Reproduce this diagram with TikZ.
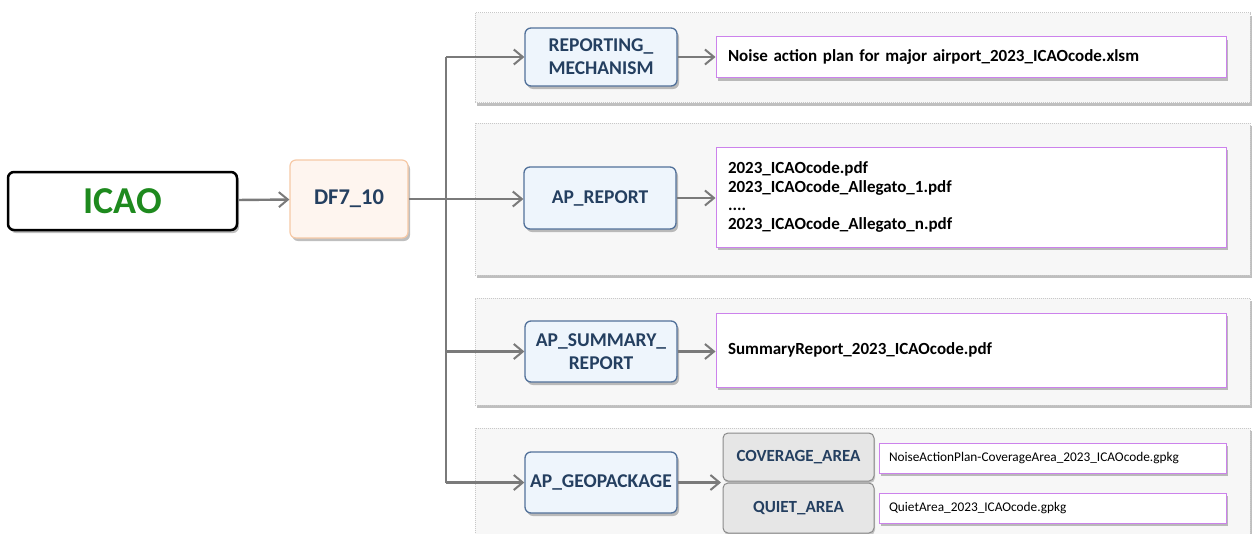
\documentclass[tikz,border=0pt]{standalone}
\usepackage{fontspec}
\setmainfont{Carlito}
\usetikzlibrary{arrows.meta,shadows}

\definecolor{navy}{HTML}{243F60}
\definecolor{bluefill}{HTML}{EEF5FC}
\definecolor{blueline}{HTML}{52719A}
\definecolor{peachfill}{HTML}{FEF5EF}
\definecolor{peachline}{HTML}{F6C9A6}
\definecolor{icaogreen}{HTML}{1E8A1E}
\definecolor{panelfill}{HTML}{F7F7F7}
\definecolor{panelline}{HTML}{C8C8C8}
\definecolor{fileline}{HTML}{CC82EC}
\definecolor{grayfill}{HTML}{E6E6E6}
\definecolor{grayline}{HTML}{8A8A8A}
\definecolor{arrowgray}{HTML}{7A7A7A}

\begin{document}
\begin{tikzpicture}[x=1pt,y=-1pt,
  shadowed/.style={drop shadow={shadow xshift=2pt,shadow yshift=-3pt,opacity=0.25,fill=black}},
  panel/.style={draw=panelline,dash pattern=on 1pt off 1pt,fill=panelfill,shadowed,
    minimum width=775pt,inner sep=0pt},
  srcbox/.style={draw=black,line width=2.5pt,rounded corners=6pt,fill=white,shadowed,
    minimum width=229pt,minimum height=58pt,font=\fontsize{38}{42}\selectfont\bfseries,text=icaogreen},
  dfbox/.style={draw=peachline,line width=1.2pt,rounded corners=6pt,fill=peachfill,shadowed,
    minimum width=118pt,minimum height=78pt,font=\fontsize{22.5}{26}\selectfont\bfseries,text=navy},
  catbox/.style={draw=blueline,line width=1.3pt,rounded corners=6pt,fill=bluefill,shadowed,
    minimum width=152pt,minimum height=60pt,align=center,
    font=\fontsize{19.5}{23}\selectfont\bfseries,text=navy},
  areabox/.style={draw=grayline,line width=1pt,rounded corners=5pt,fill=grayfill,
    drop shadow={shadow xshift=1pt,shadow yshift=-2pt,opacity=0.2,fill=black},
    minimum width=151pt,font=\fontsize{17}{20}\selectfont\bfseries,text=navy},
  filebox/.style={draw=fileline,line width=1pt,fill=white,shadowed,
    text width=486pt,align=left,inner xsep=12pt,
    font=\fontsize{17}{18.5}\selectfont\bfseries},
  smallfile/.style={draw=fileline,line width=1pt,fill=white,shadowed,
    text width=327pt,align=left,inner xsep=10pt,minimum height=30pt,
    font=\fontsize{13.3}{15}\selectfont},
  link/.style={draw=arrowgray,line width=2.4pt,-{Straight Barb[length=9pt,width=15pt,line width=2pt]}},
  trunk/.style={draw=arrowgray,line width=2.4pt}
]
  \useasboundingbox (0,0) rectangle (1253,533);

  %background panels, one for each output type
  \node[panel,minimum height=90pt]  (p1) at (862.5,57.5) {};
  \node[panel,minimum height=152pt] (p2) at (862.5,199) {};
  \node[panel,minimum height=107pt] (p3) at (862.5,351.5) {};
  \node[panel,minimum height=112pt] (p4) at (862.5,484) {};

  %source and data flow
  \node[srcbox] (icao) at (122.5,201) {ICAO};
  \node[dfbox]  (df)   at (349,199) {DF7\_10};

  %categories
  \node[catbox,minimum height=58pt] (m1) at (601,57)    {REPORTING\_\\MECHANISM};
  \node[catbox,minimum height=62pt] (m2) at (600,198)   {AP\_REPORT};
  \node[catbox,minimum height=61pt] (m3) at (601,351.5) {AP\_SUMMARY\_\\REPORT};
  \node[catbox,minimum height=61pt] (m4) at (601,482.5) {AP\_GEOPACKAGE};

  %files
  \node[filebox,minimum height=41pt]  (f1) at (971,57)  {Noise action plan for major airport\_2023\_ICAOcode.xlsm};
  \node[filebox,minimum height=100pt] (f2) at (971,197) {2023\_ICAOcode.pdf\\2023\_ICAOcode\_Allegato\_1.pdf\\....\\2023\_ICAOcode\_Allegato\_n.pdf};
  \node[filebox,minimum height=74pt]  (f3) at (971,350) {SummaryReport\_2023\_ICAOcode.pdf};

  %geopackage layers
  \node[areabox,minimum height=48pt] (g1) at (798.5,457) {COVERAGE\_AREA};
  \node[areabox,minimum height=50pt] (g2) at (798.5,508) {QUIET\_AREA};
  \node[smallfile] (h1) at (1052.5,458) {NoiseActionPlan-CoverageArea\_2023\_ICAOcode.gpkg};
  \node[smallfile] (h2) at (1052.5,508) {QuietArea\_2023\_ICAOcode.gpkg};
  \coordinate (gin) at (721,482.5); %between the two layers

  %connectors
  \draw[link] (icao) -- (df);
  \coordinate (tr) at (446,199); %branch point
  \draw[link] (df.east |- tr) -- (m2.west |- tr);
  \draw[trunk] (tr |- m1.west) -- (tr |- m4.west);
  \draw[link] (tr |- m1.west) -- (m1.west);
  \draw[link] (tr |- m3.west) -- (m3.west);
  \draw[link] (tr |- m4.west) -- (m4.west);
  \draw[link] (m1) -- (f1.west |- m1);
  \draw[link] (m2) -- (f2.west |- m2);
  \draw[link] (m3) -- (f3.west |- m3);
  \draw[link] (m4) -- (gin);
\end{tikzpicture}
\end{document}
